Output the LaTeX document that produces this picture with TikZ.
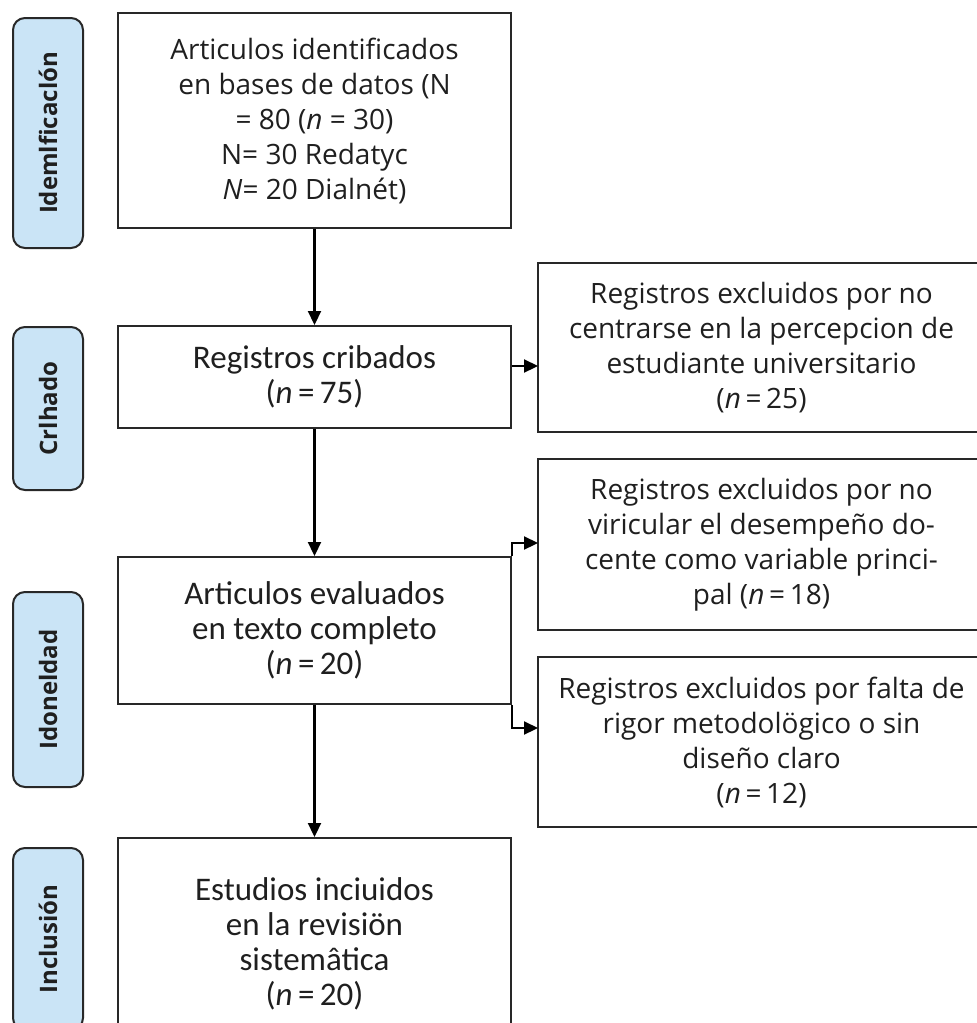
\documentclass[tikz,border=0pt]{standalone}
\usepackage{fontspec}
\setmainfont{Open Sans}
\newfontfamily\calfont{Carlito}
\usetikzlibrary{arrows.meta}
\definecolor{stagefill}{RGB}{202,228,246}
\definecolor{linegray}{RGB}{40,40,40}

\begin{document}
\begin{tikzpicture}[x=0.5pt, y=-0.5pt,
  every node/.style={font=\fontsize{14}{17.5}\selectfont, text=black!88},
  stage/.style={draw=linegray, line width=1pt, fill=stagefill, rounded corners=6pt, rotate=90,
    minimum height=35pt, inner sep=0pt, font=\bfseries\fontsize{12}{14}\selectfont},
  box/.style={draw=linegray, line width=1pt, align=center, inner sep=0pt},
  mainbox/.style={box, minimum width=196.5pt, font=\calfont\fontsize{16.5}{17.5}\selectfont},
  sidebox/.style={box, minimum width=223.5pt},
  arr/.style={draw=black, line width=1.1pt, -{Triangle[length=7pt,width=6.5pt]}}]
  \useasboundingbox (0,0) rectangle (977,1023);
  \clip (0,0) rectangle (977,1023);

  \node[stage, minimum width=115pt]  at (48, 133)   (s1) {Idemlficaclón};
  \node[stage, minimum width=81.5pt] at (48, 408.5) (s2) {Crlhado};
  \node[stage, minimum width=97.5pt] at (48, 689.5) (s3) {Idoneldad};
  \node[stage, minimum width=91pt]   at (48, 939)   (s4) {Inclusión};

  \node[box, minimum width=196.5pt, minimum height=107.5pt] at (314.5, 120.5) (b1)
    {Articulos identificados\\en bases de datos (N\\= 80 (\textit{n} = 30)\\N= 30 Redatyc\\ \textit{N}= 20 Dialnét)};
  \node[mainbox, minimum height=51pt]   at (314.5, 377)   (b2) {Registros cribados\\(\textit{n}\,=\,75)};
  \node[mainbox, minimum height=73.5pt] at (314.5, 630.5) (b3) {Articulos evaluados\\en texto completo\\(\textit{n}\,=\,20)};
  \node[mainbox, minimum height=106pt]  at (314.5, 944)   (b4)
    {Estudios inciuidos\\en la revisiön\\sistemâtica\\(\textit{n}\,=\,20)};

  \node[sidebox, minimum height=84.5pt] at (761.5, 347.5) (r1)
    {Registros excluidos por no\\centrarse en la percepcion de\\estudiante universitario\\(\textit{n}\,=\,25)};
  \node[sidebox, minimum height=85.5pt] at (761.5, 544.5) (r2)
    {Registros excluidos por no\\viricular el desempeño do-\\cente como variable princi-\\pal (\textit{n}\,=\,18)};
  \node[sidebox, minimum height=85pt]   at (761.5, 742)   (r3)
    {Registros excluidos por falta de\\rigor metodolögico o sin\\diseño claro\\(\textit{n}\,=\,12)};

  \coordinate (r1in) at (538, 366);
  \coordinate (r2in) at (538, 543);
  \coordinate (r3in) at (538, 728);

  \draw (b1) edge[arr] (b2);
  \draw (b2) edge[arr] (b3);
  \draw (b3) edge[arr] (b4);
  \draw[arr] (r1in -| b2.east) -- (r1in);
  \draw[arr] (b3.north east) |- (r2in);
  \draw[arr] (b3.south east) |- (r3in);
\end{tikzpicture}
\end{document}
